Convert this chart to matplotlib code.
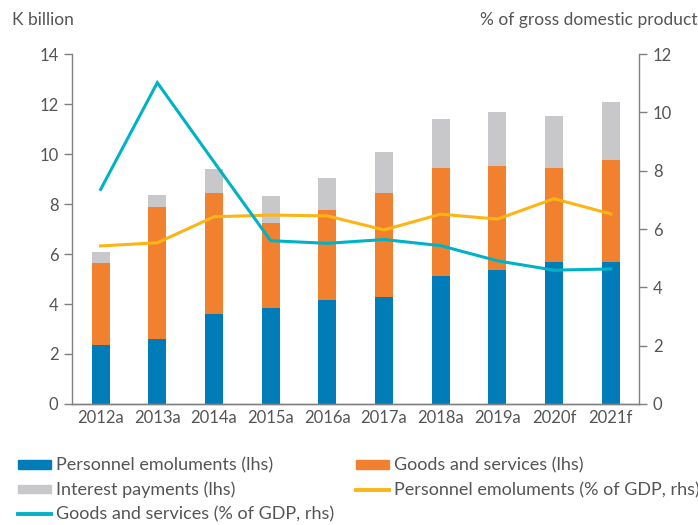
import matplotlib
matplotlib.use("Agg")
import matplotlib.pyplot as plt
from matplotlib.patches import Patch
from matplotlib.lines import Line2D
import numpy as np

plt.rcParams['font.family'] = ['Lato', 'DejaVu Sans']

years = ["2012a", "2013a", "2014a", "2015a", "2016a", "2017a", "2018a", "2019a", "2020f", "2021f"]
personnel = [2.36, 2.60, 3.61, 3.85, 4.15, 4.29, 5.13, 5.35, 5.69, 5.69]
goods = [3.29, 5.27, 4.82, 3.39, 3.61, 4.15, 4.32, 4.18, 3.76, 4.08]
interest = [0.43, 0.49, 0.96, 1.08, 1.27, 1.63, 1.94, 2.16, 2.07, 2.30]
pe_gdp = [5.42, 5.53, 6.42, 6.48, 6.45, 5.97, 6.51, 6.34, 7.04, 6.52]
gs_gdp = [7.36, 11.02, 8.30, 5.60, 5.51, 5.64, 5.43, 4.91, 4.59, 4.63]

c_blue = "#007DB8"
c_orange = "#F1812E"
c_grey = "#C8C8CA"
c_yellow = "#FDB515"
c_teal = "#00B2C6"
c_text = "#555555"
c_spine = "#808080"

fig = plt.figure(figsize=(6.98, 5.25), dpi=100)
ax = fig.add_axes([0.1036, 0.2305, 0.8119, 0.6665])
ax2 = ax.twinx()

x = np.arange(len(years))
w = 0.32
p = np.array(personnel)
g = np.array(goods)
i = np.array(interest)
ax.bar(x, p, w, color=c_blue, zorder=2)
ax.bar(x, g, w, bottom=p, color=c_orange, zorder=2)
ax.bar(x, i, w, bottom=p + g, color=c_grey, zorder=2)

ax2.plot(x, pe_gdp, color=c_yellow, lw=2.2, solid_joinstyle='miter')
ax2.plot(x, gs_gdp, color=c_teal, lw=2.2, solid_joinstyle='miter')

ax.set_xlim(-0.5, 9.5)
ax.set_ylim(0, 14)
ax2.set_ylim(0, 12)
ax.set_yticks(range(0, 15, 2))
ax2.set_yticks(range(0, 13, 2))
ax.set_xticks(x)
ax.set_xticklabels(years)

for a in (ax, ax2):
    a.spines["top"].set_visible(False)
    for s in ("left", "right", "bottom"):
        a.spines[s].set_color(c_spine)
        a.spines[s].set_linewidth(1.0)
    a.tick_params(axis='y', colors=c_spine, labelcolor=c_text, labelsize=12, length=6, width=1.0, pad=4)
ax.tick_params(axis='x', length=0, labelcolor=c_text, labelsize=12, pad=4)
ax2.spines['left'].set_visible(False)
ax.spines['right'].set_visible(False)

fig.text(12 / 698, 1 - 20 / 525, "K billion", color=c_text, fontsize=12.5, ha='left', va='center')
fig.text(697 / 698, 1 - 20 / 525, "% of gross domestic product", color=c_text, fontsize=12.5, ha='right', va='center')

col1 = [
    Patch(color=c_blue, label="Personnel emoluments (lhs)"),
    Patch(color=c_grey, label="Interest payments (lhs)"),
    Line2D([], [], color=c_teal, lw=2.8, label="Goods and services (% of GDP, rhs)"),
]
col2 = [
    Patch(color=c_orange, label="Goods and services (lhs)"),
    Line2D([], [], color=c_yellow, lw=2.8, label="Personnel emoluments (% of GDP, rhs)"),
]
kw = dict(loc='upper left', frameon=False, fontsize=13, labelcolor=c_text, handlelength=1.8,
          handleheight=0.35, handletextpad=0.28, labelspacing=0.45, borderaxespad=0, borderpad=0)
leg1 = fig.legend(handles=col1, bbox_to_anchor=(18 / 698, 0.1284), **kw)
leg2 = fig.legend(handles=col2, bbox_to_anchor=(356 / 698, 0.1284), **kw)

fig.savefig("out.png", dpi=100)
